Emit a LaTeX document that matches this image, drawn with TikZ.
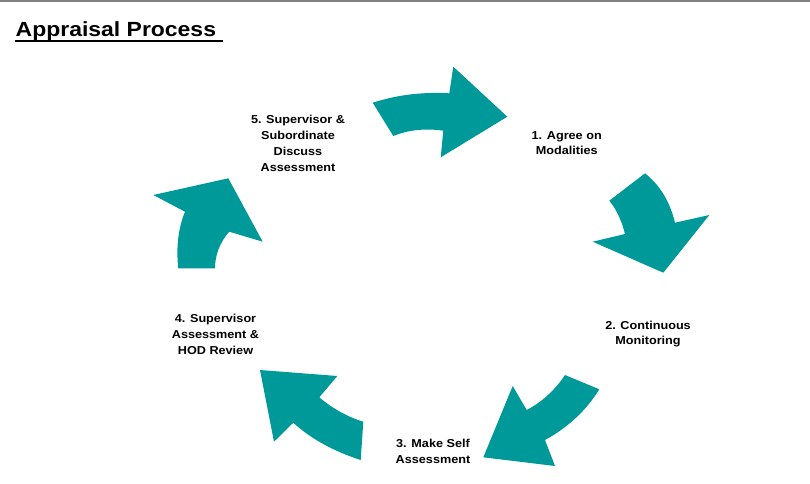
\documentclass[tikz,border=0pt]{standalone}
\usepackage{fontspec}
\setmainfont{Liberation Sans}[FakeStretch=1.1]
\newfontfamily\titlefont{Liberation Sans}[FakeStretch=1.12]
\definecolor{teal1}{HTML}{009999}
\definecolor{rulegray}{HTML}{808080}
\tikzset{
  arrowshape/.style={fill=teal1, draw=none},
  lbl/.style={align=center, inner sep=0pt, font=\fontsize{11.5}{15.8}\selectfont\bfseries, text=black},
  ttl/.style={anchor=base west, inner sep=0pt, font=\titlefont\fontsize{20.5}{24}\selectfont\bfseries}
}
\begin{document}
\begin{tikzpicture}[x=1pt,y=-1pt]
\useasboundingbox (0,0) rectangle (810,483);
\fill[white] (0,0) rectangle (810,483);
% top border
\coordinate (b1) at (0,1);
\coordinate (b2) at (810,1);
\draw[rulegray, line width=1.6pt] (b1) -- (b2);
% title
\node[ttl] (title) at (15.5,36.5) {Appraisal Process};
\coordinate (ul1) at (15,40.8);
\coordinate (ul2) at (223,40.8);
\draw[black, line width=1.8pt] (ul1) -- (ul2);
% arrow 1 (top)
\fill[arrowshape] (372.7,102.7) .. controls (400,94) and (425,92) .. (449.3,93.3)
  -- (453.3,66.7) -- (507.3,116.7) -- (440.7,157.3) -- (443.3,130.7)
  .. controls (425,128) and (408,130) .. (393.3,136) -- cycle;
% arrow 2 (right)
\fill[arrowshape] (645,173.3) .. controls (660,185) and (670,202) .. (675,222.7)
  -- (709.3,215) -- (663.3,272.7) -- (592.7,241.7) -- (625,234)
  .. controls (622,222) and (617,210) .. (609.3,200.7) -- cycle;
% arrow 3 (bottom right)
\fill[arrowshape] (599.3,389.3) .. controls (586,411) and (567,428) .. (545,440)
  -- (555,466) -- (483.3,457.3) -- (512.7,386) -- (526.7,410)
  .. controls (542,402) and (555,390) .. (565,375) -- cycle;
% arrow 4 (bottom left)
\fill[arrowshape] (360.7,460) .. controls (336,452) and (312,440) .. (293.3,422.7)
  -- (274,441.7) -- (260,370) -- (337.3,376) -- (319.3,397.3)
  .. controls (333,409) and (348,417) .. (363.3,421.7) -- cycle;
% arrow 5 (left)
\fill[arrowshape] (178.3,268.3) .. controls (176,248) and (178,229) .. (185,211.7)
  -- (153.3,195) -- (228.3,178.3) -- (262.7,241.7) -- (229.3,231.7)
  .. controls (220,242) and (215,255) .. (215,268.3) -- cycle;
% labels
\node[lbl] (s1) at (566.7,143) {1. Agree on\\Modalities};
\node[lbl] (s2) at (648,334) {2. Continuous\\Monitoring};
\node[lbl] (s3) at (433,451) {3. Make Self\\Assessment};
\node[lbl] (s4) at (215.5,334.5) {4. Supervisor\\Assessment \&\\HOD Review};
\node[lbl] (s5) at (298,143.5) {5. Supervisor \&\\Subordinate\\Discuss\\Assessment};
\end{tikzpicture}
\end{document}
